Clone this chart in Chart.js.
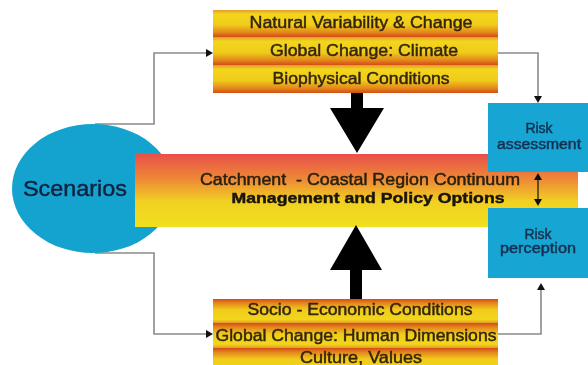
<!DOCTYPE html>
<html>
<head>
<meta charset="utf-8">
<script src="https://cdn.jsdelivr.net/npm/chart.js@4/dist/chart.umd.min.js"></script>
<style>
html, body { margin: 0; padding: 0; background: #fff; }
#wrap { width: 588px; height: 365px; }
</style>
</head>
<body>
<div id="wrap"><canvas id="diagram"></canvas></div>
<script>
// text of the diagram
const hubLabel = "Scenarios";
const topBands = ["Natural Variability & Change", "Global Change: Climate", "Biophysical Conditions"];
const bottomBands = ["Socio - Economic Conditions", "Global Change: Human Dimensions", "Culture, Values"];
const centreLines = ["Catchment  - Coastal Region Continuum", "Management and Policy Options"];
const riskBoxes = [["Risk", "assessment"], ["Risk", "perception"]];

// layout, in diagram units (the hidden axes run 0..588 and 0..365)
const bandX = [213, 498];
const topEdges = [10, 37, 65, 93];
const bottomEdges = [299, 323, 348, 373];
const centreBox = { x0: 135, x1: 578, y0: 154, y1: 227 };
const hub = { cx: 93, cy: 188.5, rx: 81, ry: 64.5 };
const riskRects = [{ x0: 488, x1: 588, y0: 103, y1: 172 }, { x0: 488, x1: 588, y0: 208, y1: 278 }];
const topText = [[361, 23.5, 223], [364, 51.5, 188], [361, 79.5, 177]];
const bottomText = [[360, 311, 225], [356, 336.5, 281], [361, 359, 122]];

const FONT = '"Liberation Sans", Arial, sans-serif';

const diagramPlugin = {
    id: "diagram",
    afterDraw(chart) {
        const ctx = chart.ctx;
        const sx = chart.scales.x, sy = chart.scales.y;
        const X = (v) => sx.getPixelForValue(v);
        const Y = (v) => sy.getPixelForValue(v);

        function poly(pts, fill) {
            ctx.beginPath();
            pts.forEach((p, i) => i ? ctx.lineTo(X(p[0]), Y(p[1])) : ctx.moveTo(X(p[0]), Y(p[1])));
            ctx.closePath();
            ctx.fillStyle = fill;
            ctx.fill();
        }
        function connector(pts) {
            ctx.beginPath();
            pts.forEach((p, i) => i ? ctx.lineTo(X(p[0]), Y(p[1])) : ctx.moveTo(X(p[0]), Y(p[1])));
            ctx.strokeStyle = "#8a8a8a";
            ctx.lineWidth = 1.6;
            ctx.stroke();
        }
        function head(tx, ty, dir) { // small black arrowhead
            const L = 7, W = 4;
            let pts;
            if (dir == "r") pts = [[tx, ty], [tx - L, ty - W], [tx - L, ty + W]];
            if (dir == "d") pts = [[tx, ty], [tx - W, ty - L], [tx + W, ty - L]];
            if (dir == "u") pts = [[tx, ty], [tx - W, ty + L], [tx + W, ty + L]];
            poly(pts, "#111");
        }
        function text(str, cx, cy, width, size, color, bold) {
            ctx.save();
            ctx.font = (bold ? "bold " : "") + size + "px " + FONT;
            const w = ctx.measureText(str).width;
            const k = width ? width / w : 1;
            ctx.translate(X(cx), Y(cy));
            ctx.scale(k, 1);
            ctx.fillStyle = color;
            ctx.strokeStyle = color;
            ctx.lineWidth = 0.45;
            ctx.textAlign = "center";
            ctx.textBaseline = "middle";
            ctx.fillText(str, 0, 0);
            ctx.strokeText(str, 0, 0);
            ctx.restore();
        }
        function band(y0, y1, flip) {
            const g = ctx.createLinearGradient(0, Y(y0), 0, Y(y1));
            const stops = [[0, "#e59a2a"], [0.15, "#f2d61c"], [0.55, "#f0cc1a"], [0.82, "#e48a1c"], [1, "#d44c16"]];
            stops.forEach((s) => g.addColorStop(flip ? 1 - s[0] : s[0], s[1]));
            ctx.fillStyle = g;
            ctx.fillRect(X(bandX[0]), Y(y0), X(bandX[1]) - X(bandX[0]), Y(y1) - Y(y0));
        }

        // connectors
        connector([[95, 124], [154, 124], [154, 53], [207, 53]]);
        head(213, 53, "r");
        connector([[95, 253], [154, 253], [154, 334], [207, 334]]);
        head(213, 334, "r");
        connector([[498, 53], [538, 53], [538, 97]]);
        head(538, 103, "d");
        connector([[497, 334], [541, 334], [541, 289]]);
        head(541, 283, "u");

        // Scenarios ellipse
        ctx.beginPath();
        ctx.ellipse(X(hub.cx), Y(hub.cy), X(hub.cx + hub.rx) - X(hub.cx), Y(hub.cy + hub.ry) - Y(hub.cy), 0, 0, Math.PI * 2);
        ctx.fillStyle = "#14a3cf";
        ctx.fill();

        // centre bar
        const cg = ctx.createLinearGradient(0, Y(centreBox.y0), 0, Y(centreBox.y1));
        cg.addColorStop(0, "#e8504a");
        cg.addColorStop(0.35, "#ee8a36");
        cg.addColorStop(0.65, "#f1d022");
        cg.addColorStop(1, "#f0e01e");
        ctx.fillStyle = cg;
        ctx.fillRect(X(centreBox.x0), Y(centreBox.y0), X(centreBox.x1) - X(centreBox.x0), Y(centreBox.y1) - Y(centreBox.y0));

        // risk boxes
        riskRects.forEach((r) => {
            ctx.fillStyle = "#17a5d3";
            ctx.fillRect(X(r.x0), Y(r.y0), X(r.x1) - X(r.x0), Y(r.y1) - Y(r.y0));
        });
        // double arrow between risk boxes
        ctx.beginPath();
        ctx.moveTo(X(538), Y(178));
        ctx.lineTo(X(538), Y(201));
        ctx.strokeStyle = "#111";
        ctx.lineWidth = 1.2;
        ctx.stroke();
        head(538, 173, "u");
        head(538, 206, "d");

        // bands
        for (let i = 0; i < topBands.length; i++) band(topEdges[i], topEdges[i + 1], false);
        for (let i = 0; i < bottomBands.length; i++) band(bottomEdges[i], bottomEdges[i + 1], true);

        // big black arrows
        poly([[351, 93], [363, 93], [363, 108], [384, 108], [357, 153], [330, 108], [351, 108]], "#000");
        poly([[350, 299], [362, 299], [362, 270], [382, 270], [356, 225], [330, 270], [350, 270]], "#000");

        // labels
        text(hubLabel, 75, 190, 104, 22, "#10223f");
        topBands.forEach((t, i) => text(t, topText[i][0], topText[i][1], topText[i][2], 16, "#35250c"));
        bottomBands.forEach((t, i) => text(t, bottomText[i][0], bottomText[i][1], bottomText[i][2], 16, "#35250c"));
        text(centreLines[0], 360, 181, 320, 16, "#2a200e");
        text(centreLines[1], 368, 199, 273, 15, "#1a140a", true);
        text(riskBoxes[0][0], 539, 129, 0, 14, "#15304f");
        text(riskBoxes[0][1], 539, 145, 84, 14, "#15304f");
        text(riskBoxes[1][0], 538, 235, 0, 14, "#15304f");
        text(riskBoxes[1][1], 538, 249, 76, 14, "#15304f");
    }
};

new Chart(document.getElementById("diagram"), {
    type: "scatter",
    data: { datasets: [] },
    options: {
        responsive: true,
        maintainAspectRatio: false,
        animation: false,
        layout: { padding: 0 },
        plugins: { legend: { display: false }, tooltip: { enabled: false } },
        scales: {
            x: { type: "linear", min: 0, max: 588, display: false },
            y: { type: "linear", min: 0, max: 365, reverse: true, display: false },
        },
    },
    plugins: [diagramPlugin],
});
</script>
</body>
</html>
